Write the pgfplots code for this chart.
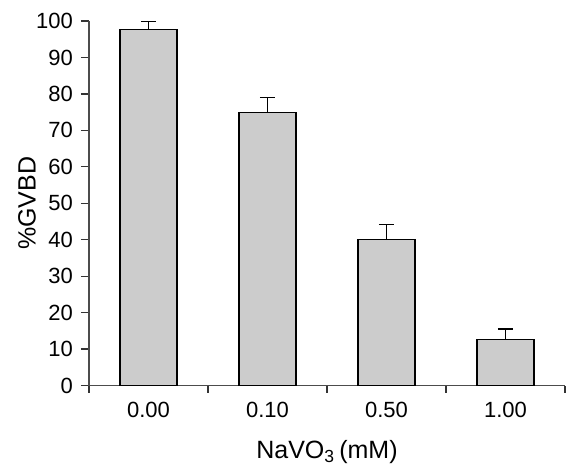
\documentclass[border=0pt]{standalone}
\usepackage{fontspec}
\setmainfont{Liberation Sans}
\usepackage{pgfplots}
\pgfplotsset{compat=1.18}
\definecolor{barfill}{HTML}{CCCCCC}
\begin{document}
\begin{tikzpicture}
\begin{axis}[
    scale only axis,
    width=238pt, height=182.25pt,
    axis lines=left,
    axis line style={-, black!70, line width=0.6pt},
    xmin=-0.5, xmax=3.5,
    ymin=0, ymax=100,
    ytick={0,10,...,100},
    xtick={0,1,2,3},
    xticklabels={0.00,0.10,0.50,1.00},
    minor xtick={-0.5,0.5,1.5,2.5,3.5},
    tick align=outside,
    major tick length=4pt,
    minor tick length=3.5pt,
    major x tick style={draw=none},
    minor x tick style={black!80, line width=0.6pt},
    major y tick style={black!80, line width=0.6pt},
    tick label style={font=\fontsize{11}{13}\selectfont},
    /pgf/number format/assume math mode=true,
    yticklabel style={xshift=-0.5pt},
    xticklabel style={yshift=-1pt},
    xlabel={NaVO\textsubscript{3}\,(mM)},
    ylabel={\%GVBD},
    every axis x label/.style={at={(axis description cs:0.5,0)}, yshift=-33.25pt, anchor=center, font=\fontsize{12.5}{14}\selectfont},
    every axis y label/.style={at={(axis description cs:0,0.5)}, xshift=-31pt, rotate=90, anchor=center, font=\fontsize{12.5}{14}\selectfont},
    ybar,
    bar width=28.5pt,
    bar shift=0pt,
    clip=false,
]
\addplot[
    fill=barfill, draw=black, line width=0.6pt,
    error bars/.cd,
    y dir=plus, y explicit,
    error bar style={black, line width=0.6pt},
    error mark options={black, line width=0.6pt, mark size=3.75pt, rotate=90},
] coordinates {
    (0,97.7) +- (0,2.1)
    (1,74.8) +- (0,4.2)
    (2,40.0) +- (0,4.2)
    (3,12.6) +- (0,2.9)
};
\coordinate (o) at (rel axis cs:0,0);
\coordinate (t) at (rel axis cs:1,1);
\end{axis}
\pgfresetboundingbox
\path ([shift={(-44.5pt,-40.25pt)}]o) rectangle ([shift={(0.5pt,10.5pt)}]t);
\end{tikzpicture}
\end{document}
